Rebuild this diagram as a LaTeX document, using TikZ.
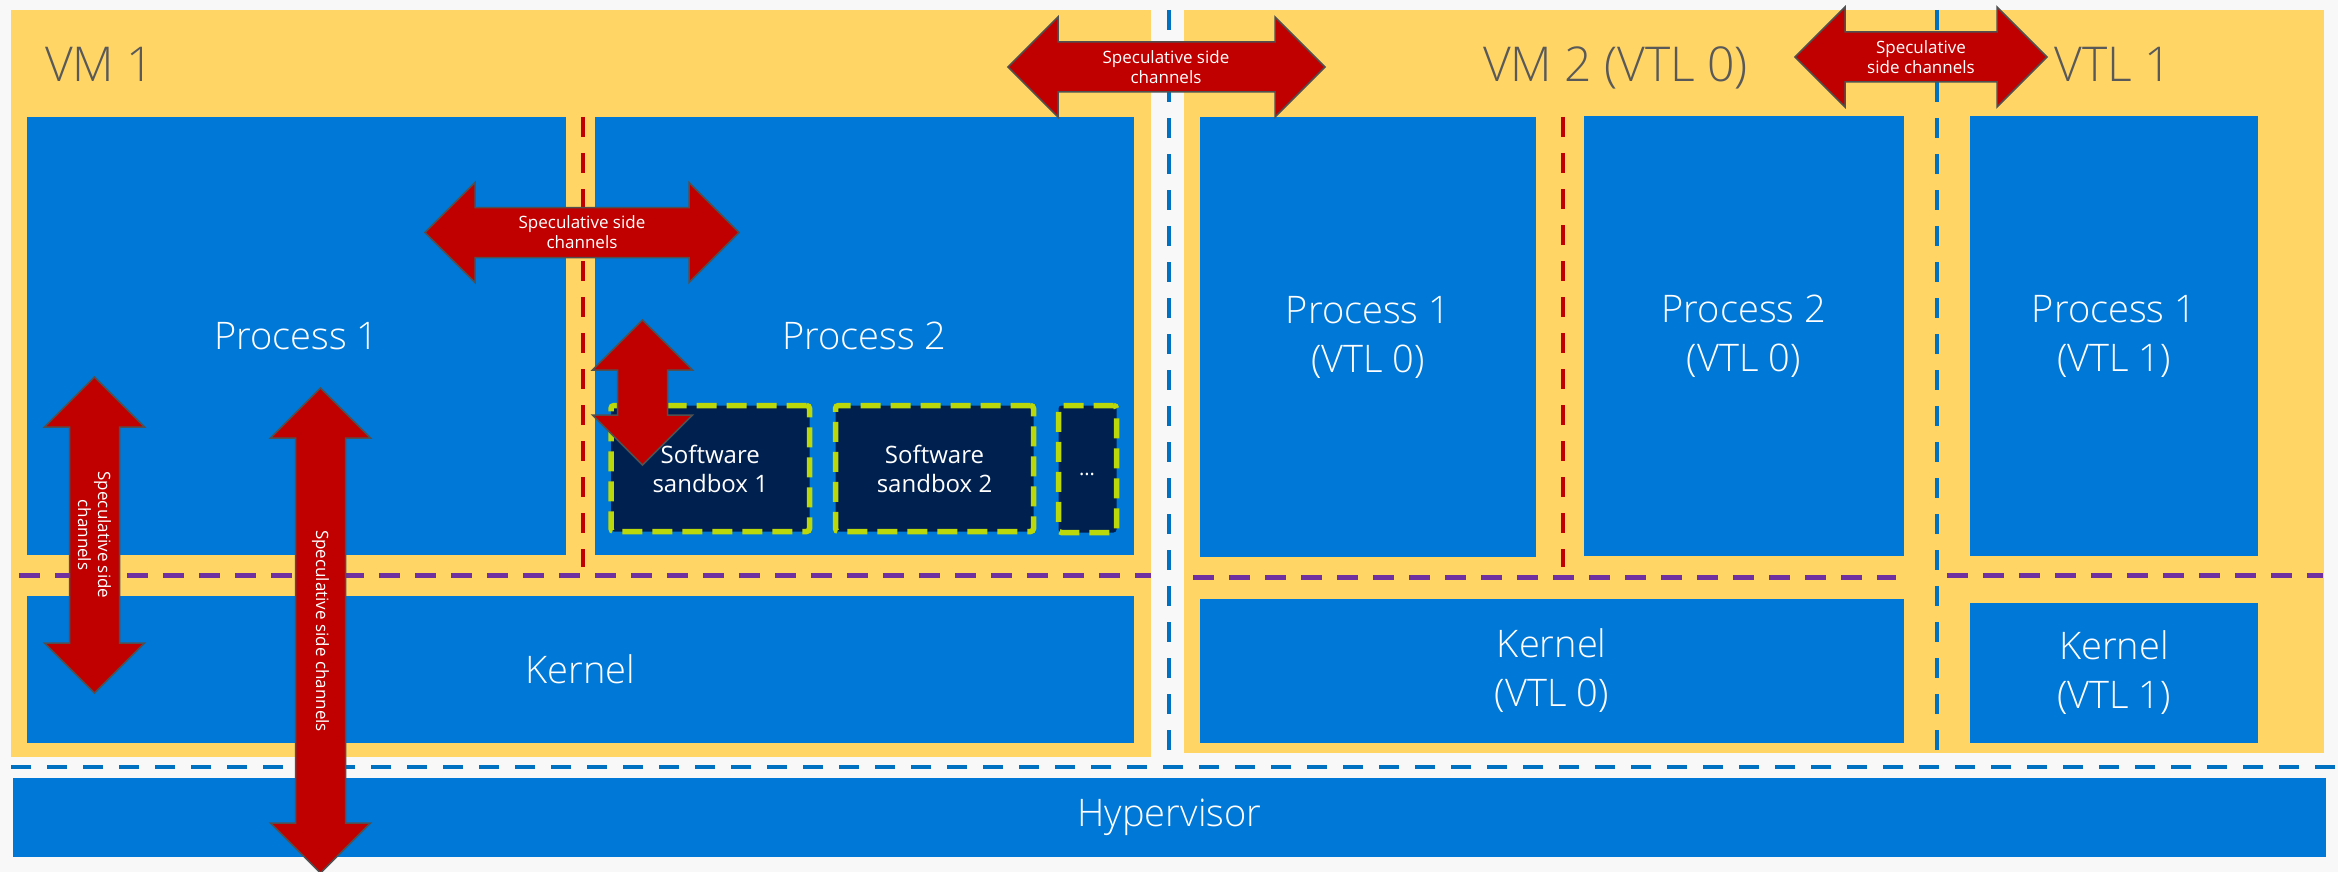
\documentclass[tikz,border=0pt]{standalone}
\usepackage{fontspec}
\setmainfont{Open Sans}
\IfFontExistsTF{Open Sans Light}{\newfontfamily\lightfont{Open Sans Light}}{\newfontfamily\lightfont{Open Sans}}
\definecolor{bgcol}{HTML}{F8F8F8}
\definecolor{vmyellow}{HTML}{FFD566}
\definecolor{msblue}{HTML}{0078D7}
\definecolor{navy}{HTML}{002050}
\definecolor{limecol}{HTML}{BAD80A}
\definecolor{arrred}{HTML}{C00000}
\definecolor{purp}{HTML}{7030A0}
\definecolor{dblue}{HTML}{0070C0}
\definecolor{labelgray}{HTML}{595959}
\definecolor{edgegray}{HTML}{505050}

\tikzset{
 vmbox/.style={fill=vmyellow, draw=none, inner sep=0pt, outer sep=0pt},
 bluebox/.style={fill=msblue, draw=none, inner sep=0pt, outer sep=0pt, text=white, font=\lightfont\fontsize{38}{49}\selectfont, align=center},
 sandbox/.style={fill=navy, draw=limecol, line width=5.5pt, dash pattern=on 20pt off 10pt, rounded corners=3pt, inner sep=0pt, outer sep=0pt, text=white, font=\fontsize{24}{29}\selectfont, align=center},
 vmlabel/.style={text=labelgray, font=\lightfont\fontsize{48}{58}\selectfont, anchor=base, inner sep=0pt},
 redsep/.style={draw=arrred, line width=4pt, dash pattern=on 20pt off 16pt},
 purpsep/.style={draw=purp, line width=5pt, dash pattern=on 21pt off 15pt},
 bluesep/.style={draw=dblue, line width=4.5pt, dash pattern=on 20pt off 16pt},
 arrowshape/.style={fill=arrred, draw=edgegray, line width=1.5pt, line join=miter},
 arrowtext/.style={text=white, font=\fontsize{17}{20}\selectfont, align=center, inner sep=0pt},
 dotstext/.style={text=white, font=\fontsize{20}{24}\selectfont, anchor=base, inner sep=0pt},
}

\newcommand\boxat[6]{\node[#1, minimum width={(#5-#3)*1pt}, minimum height={(#6-#4)*1pt}] (#2) at ({(#3+#5)/2},{(#4+#6)/2})}

\newcommand\dblarrow[4]{%
 \begin{scope}[shift={(#1,#2)},rotate=#4]
 \draw[arrowshape] (-#3,0) -- ({-#3+50},-50) -- ({-#3+50},-25) -- ({#3-50},-25) -- ({#3-50},-50) -- (#3,0) -- ({#3-50},50) -- ({#3-50},25) -- ({-#3+50},25) -- ({-#3+50},50) -- cycle;
 \end{scope}}

\begin{document}
\begin{tikzpicture}[x=1pt,y=-1pt]
\fill[bgcol] (0,0) rectangle (2338,872);
\useasboundingbox (0,0) rectangle (2338,872);

% hypervisor
\boxat{bluebox}{hv}{13}{778}{2326}{857} {Hypervisor};

% VM backgrounds
\boxat{vmbox}{vm1}{11}{10}{1151}{757} {};
\boxat{vmbox}{vm2}{1184}{10}{2324}{753} {};

% VM 1 contents
\boxat{bluebox}{p1a}{27}{117}{566}{555} {Process 1};
\boxat{bluebox}{p2a}{594.5}{117}{1134}{555} {Process 2};
\boxat{bluebox}{k1}{27}{596}{1134}{743} {Kernel};

% VM 2 contents
\boxat{bluebox}{p1b}{1200}{117}{1536}{557} {Process 1\\(VTL 0)};
\boxat{bluebox}{p2b}{1584}{116}{1903.5}{556} {Process 2\\(VTL 0)};
\boxat{bluebox}{p1c}{1970}{116}{2258}{556} {Process 1\\(VTL 1)};
\boxat{bluebox}{k2}{1200}{599}{1903.5}{743} {Kernel\\(VTL 0)};
\boxat{bluebox}{k3}{1970}{603}{2258}{743} {Kernel\\(VTL 1)};

% sandboxes
\boxat{sandbox}{s1}{611}{405.5}{809.5}{531.5} {Software\\sandbox 1};
\boxat{sandbox}{s2}{835.5}{405.5}{1033.5}{531.5} {Software\\sandbox 2};
\boxat{sandbox}{s3}{1058.5}{405.5}{1116.5}{532.5} {};
\node[dotstext] (s3t) at (1087,475) {...};

% separator lines
\coordinate (ra1) at (583,117); \coordinate (ra2) at (583,567);
\coordinate (rb1) at (1562.5,117); \coordinate (rb2) at (1562.5,567);
\draw[redsep] (ra1) -- (ra2);
\draw[redsep] (rb1) -- (rb2);

\coordinate (pa1) at (19,575); \coordinate (pa2) at (1151,575);
\coordinate (pb1) at (1193,577); \coordinate (pb2) at (1896,577);
\coordinate (pc1) at (1947,575); \coordinate (pc2) at (2323,575);
\draw[purpsep] (pa1) -- (pa2);
\draw[purpsep] (pb1) -- (pb2);
\draw[purpsep] (pc1) -- (pc2);

\coordinate (ba1) at (1169,10); \coordinate (ba2) at (1169,766);
\coordinate (bb1) at (1937,10); \coordinate (bb2) at (1937,750);
\coordinate (bc1) at (11,767); \coordinate (bc2) at (2338,767);
\draw[bluesep] (ba1) -- (ba2);
\draw[bluesep] (bb1) -- (bb2);
\draw[bluesep] (bc1) -- (bc2);

% VM labels
\node[vmlabel] (vm1l) at (99.5,82) {VM 1};
\node[vmlabel] (vm2l) at (1615.5,82) {VM 2 (VTL 0)};
\node[vmlabel] (vtl1l) at (2113.5,82) {VTL 1};

% block arrows
\dblarrow{582}{232.5}{157}{0}
\dblarrow{1166.5}{67}{158.5}{0}
\dblarrow{1921}{57}{126}{0}
\dblarrow{94.5}{535}{158}{90}
\dblarrow{320.5}{630.5}{242.5}{90}
\dblarrow{642.5}{392.5}{72.5}{90}

\node[arrowtext] (t1) at (582,232) {Speculative side\\channels};
\node[arrowtext] (t2) at (1166,67) {Speculative side\\channels};
\node[arrowtext] (t3) at (1921,57) {Speculative\\side channels};
\node[arrowtext, rotate=-90] (t4) at (94.5,535) {Speculative side\\channels};
\node[arrowtext, rotate=-90] (t5) at (320.5,631) {Speculative side channels};
\end{tikzpicture}
\end{document}
